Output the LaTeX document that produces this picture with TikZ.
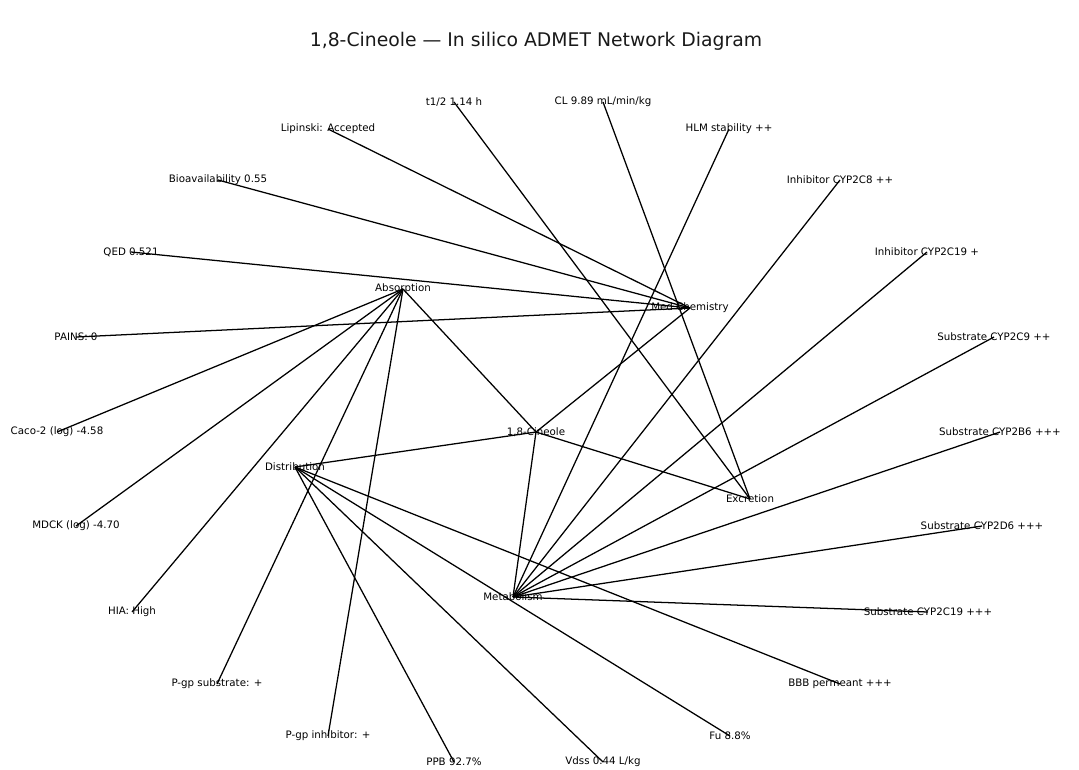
\documentclass[tikz,border=0pt]{standalone}
\usepackage{fontspec}
\setmainfont{DejaVu Sans}
\usepackage{tikz}

\begin{document}
\begin{tikzpicture}[x=0.75pt,y=0.75pt,yscale=-1,xscale=1,
  lbl/.style={inner sep=0.75pt, font=\fontsize{7.7}{9}\selectfont, text=black},
  edgeline/.style={line width=0.95pt, black}]
%set diagram size to 1079 x 769
\useasboundingbox (0,0) rectangle (1079,769);

% Title Node
\node (title) at (536,41) [inner sep=0.75pt, font=\fontsize{14.1}{16}\selectfont, text=black!90] {1,8-Cineole — In silico ADMET Network Diagram};

% Text Node: hubs
\node (cineole) at (536,432) [lbl] {1,8-Cineole};
\node (absorp) at (403,289) [lbl] {Absorption};
\node (medchem) at (690,308) [lbl] {Med Chemistry};
\node (distrib) at (295,467) [lbl] {Distribution};
\node (excret) at (750,499) [lbl] {Excretion};
\node (metab) at (513,597) [lbl] {Metabolism};

% Text Node: leaves
\node (cl) at (603,102) [lbl] {CL 9.89 mL/min/kg};
\node (thalf) at (454,102) [lbl] {t1/2 1.14 h};
\node (lipinski) at (328,129) [lbl] {Lipinski: Accepted};
\node (bioavail) at (218,180) [lbl] {Bioavailability 0.55};
\node (qed) at (131,252) [lbl] {QED 0.521};
\node (pains) at (76,337) [lbl] {PAINS: 0};
\node (caco) at (57,432) [lbl] {Caco-2 (log) -4.58};
\node (mdck) at (76,526) [lbl] {MDCK (log) -4.70};
\node (hia) at (132,612) [lbl] {HIA: High};
\node (pgpsub) at (217,684) [lbl] {P-gp substrate: +};
\node (pgpinh) at (328,736) [lbl] {P-gp inhibitor: +};
\node (ppb) at (454,762) [lbl] {PPB 92.7\%};
\node (vdss) at (603,762) [lbl] {Vdss 0.44 L/kg};
\node (fu) at (730,736) [lbl] {Fu 8.8\%};
\node (bbb) at (840,684) [lbl] {BBB permeant +++};
\node (cypsubc) at (928,612) [lbl] {Substrate CYP2C19 +++};
\node (cypsubd) at (982,526) [lbl] {Substrate CYP2D6 +++};
\node (cypsubb) at (1000,432) [lbl] {Substrate CYP2B6 +++};
\node (cypsubn) at (994,337) [lbl] {Substrate CYP2C9 ++};
\node (cypinhc) at (927,252) [lbl] {Inhibitor CYP2C19 +};
\node (cypinhe) at (840,180) [lbl] {Inhibitor CYP2C8 ++};
\node (hlm) at (729,129) [lbl] {HLM stability ++};

%Straight Lines: hub to hub
\draw [edgeline] (cineole.center) -- (absorp.center);
\draw [edgeline] (cineole.center) -- (medchem.center);
\draw [edgeline] (cineole.center) -- (distrib.center);
\draw [edgeline] (cineole.center) -- (excret.center);
\draw [edgeline] (cineole.center) -- (metab.center);
%Straight Lines: absorption
\draw [edgeline] (absorp.center) -- (caco.center);
\draw [edgeline] (absorp.center) -- (mdck.center);
\draw [edgeline] (absorp.center) -- (hia.center);
\draw [edgeline] (absorp.center) -- (pgpsub.center);
\draw [edgeline] (absorp.center) -- (pgpinh.center);
%Straight Lines: distribution
\draw [edgeline] (distrib.center) -- (ppb.center);
\draw [edgeline] (distrib.center) -- (vdss.center);
\draw [edgeline] (distrib.center) -- (fu.center);
\draw [edgeline] (distrib.center) -- (bbb.center);
%Straight Lines: metabolism
\draw [edgeline] (metab.center) -- (cypsubc.center);
\draw [edgeline] (metab.center) -- (cypsubd.center);
\draw [edgeline] (metab.center) -- (cypsubb.center);
\draw [edgeline] (metab.center) -- (cypsubn.center);
\draw [edgeline] (metab.center) -- (cypinhc.center);
\draw [edgeline] (metab.center) -- (cypinhe.center);
\draw [edgeline] (metab.center) -- (hlm.center);
%Straight Lines: excretion
\draw [edgeline] (excret.center) -- (cl.center);
\draw [edgeline] (excret.center) -- (thalf.center);
%Straight Lines: med chemistry
\draw [edgeline] (medchem.center) -- (lipinski.center);
\draw [edgeline] (medchem.center) -- (bioavail.center);
\draw [edgeline] (medchem.center) -- (qed.center);
\draw [edgeline] (medchem.center) -- (pains.center);

\end{tikzpicture}
\end{document}
